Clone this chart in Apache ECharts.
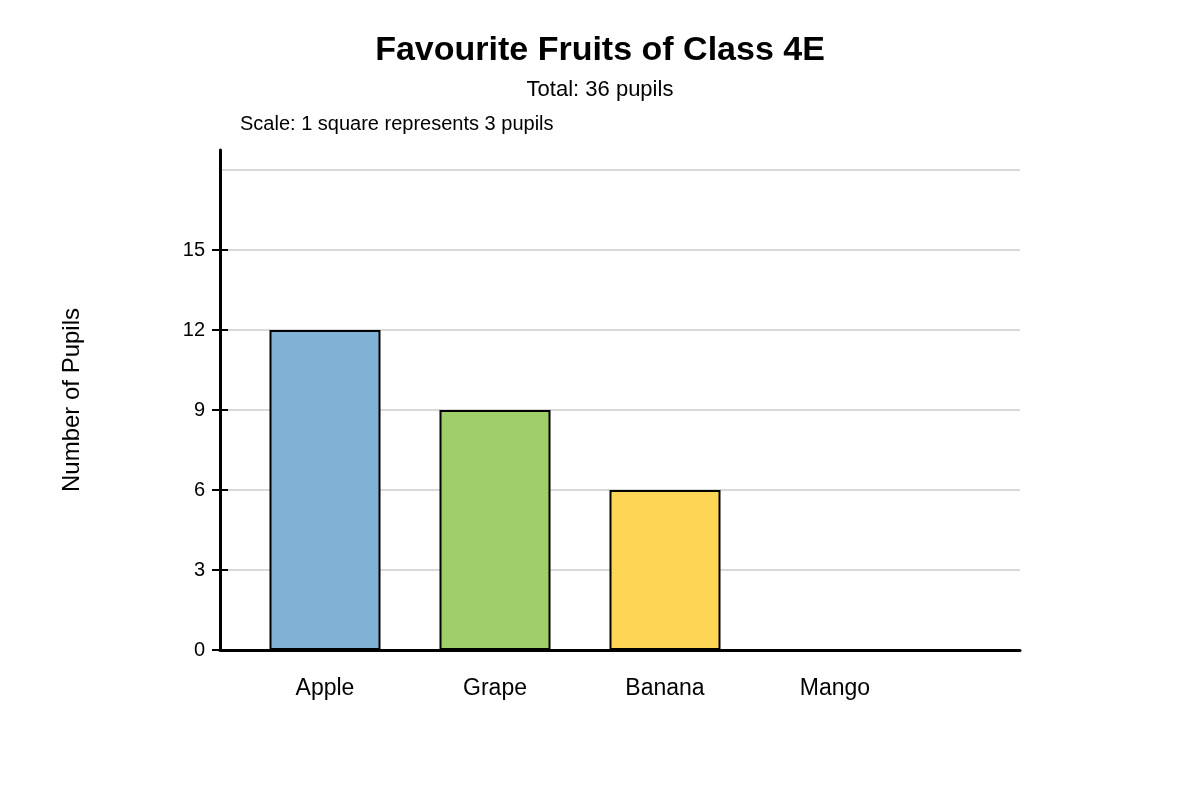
<!DOCTYPE html>
<html>
<head>
<meta charset="utf-8"/>
<title>Favourite Fruits of Class 4E</title>
<script src="https://cdn.jsdelivr.net/npm/echarts@6/dist/echarts.min.js"></script>
<style>
html,body{margin:0;padding:0;background:#fff;}
#main{width:1200px;height:800px;}
</style>
</head>
<body>
<div id="main"></div>
<script>
// data
var fruits = ['Apple', 'Grape', 'Banana', 'Mango'];
var pupils = [12, 9, 6, 0];
var barColors = ['#7fb2d5', '#a0cf6a', '#ffd555', '#f9a65a'];
var yTicks = [0, 3, 6, 9, 12, 15];

var FONT = '"Liberation Sans", Arial, sans-serif';

var myChart = echarts.init(document.getElementById('main'));

var option = {
    backgroundColor: '#fff',
    animation: false,
    title: [
        {
            text: 'Favourite Fruits of Class 4E',
            left: 'center', top: 29,
            textStyle: {fontFamily: FONT, fontSize: 34, fontWeight: 'bold', color: '#000'}
        },
        {
            text: 'Total: 36 pupils',
            left: 'center', top: 74,
            textStyle: {fontFamily: FONT, fontSize: 22, fontWeight: 'normal', color: '#000'}
        },
        {
            text: 'Scale: 1 square represents 3 pupils',
            left: 235, top: 109,
            textStyle: {fontFamily: FONT, fontSize: 20, fontWeight: 'normal', color: '#000'}
        }
    ],
    grid: [
        // frame: axes + grid lines
        {left: 220, right: 180, top: 150, bottom: 150},
        // bars
        {left: 240, width: 680, top: 150, bottom: 150}
    ],
    xAxis: [
        {
            gridIndex: 0, type: 'value', min: 0, max: 1,
            axisLine: {show: true, onZero: false, lineStyle: {color: '#000', width: 3}},
            axisTick: {show: false}, axisLabel: {show: false}, splitLine: {show: false}
        },
        {
            gridIndex: 1, type: 'category', data: fruits,
            axisLine: {show: false}, axisTick: {show: false},
            axisLabel: {margin: 27, fontFamily: FONT, fontSize: 23, color: '#000'}
        }
    ],
    yAxis: [
        {
            gridIndex: 0, type: 'value', min: 0, max: 18.75, interval: 3,
            name: 'Number of Pupils', nameLocation: 'middle', nameGap: 136,
            nameTextStyle: {fontFamily: FONT, fontSize: 24, color: '#000'},
            axisLine: {show: true, lineStyle: {color: '#000', width: 3}},
            axisTick: {show: false},
            axisLabel: {margin: 15, customValues: yTicks, fontFamily: FONT, fontSize: 20, color: '#000'},
            splitLine: {show: true, showMaxLine: false, lineStyle: {color: '#cccccc', width: 1.5}}
        },
        {
            // outer half of the ticks
            gridIndex: 0, type: 'value', min: 0, max: 18.75, position: 'left',
            axisLine: {show: false},
            axisTick: {show: true, length: 8, customValues: yTicks, lineStyle: {color: '#000', width: 2}},
            axisLabel: {show: false}, splitLine: {show: false}
        },
        {
            // inner half of the ticks
            gridIndex: 0, type: 'value', min: 0, max: 18.75, position: 'left',
            axisLine: {show: false},
            axisTick: {show: true, inside: true, length: 8, customValues: yTicks, lineStyle: {color: '#000', width: 2}},
            axisLabel: {show: false}, splitLine: {show: false}
        },
        {
            gridIndex: 1, type: 'value', min: 0, max: 18.75, show: false
        }
    ],
    series: [{
        type: 'bar',
        xAxisIndex: 1, yAxisIndex: 3,
        barWidth: 111,
        data: pupils.map(function (v, i) {
            return {value: v, itemStyle: {color: barColors[i]}};
        }),
        itemStyle: {borderColor: '#000', borderWidth: 2}
    }]
};

myChart.setOption(option);
</script>
</body>
</html>
